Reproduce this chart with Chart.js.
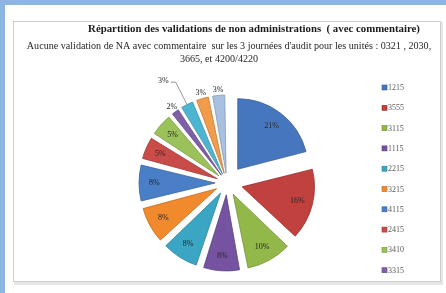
<!DOCTYPE html>
<html><head><meta charset="utf-8">
<script src="https://cdn.jsdelivr.net/npm/chart.js@4"></script>
<style>html,body{margin:0;padding:0;background:#fff;}canvas{display:block}</style>
</head><body>
<div style="width:446px;height:293px;position:relative"><canvas id="c" width="446" height="293"></canvas></div>
<script>
// ---- data ----
const chartTitle = 'Répartition des validations de non administrations  ( avec commentaire)';
const subtitleLines = ["Aucune validation de NA avec commentaire  sur les 3 journées d'audit pour les unités : 0321 , 2030,", '3665, et 4200/4220'];
const categories = ['1215', '3555', '3115', '1115', '2215', '3215', '4115', '2415', '3410', '3315', '', '', ''];
const percentValues = [21, 16, 10, 8, 8, 8, 8, 5, 5, 2, 3, 3, 3];
const legendCount = 10; // only the first 10 entries are visible in the legend
const sliceColors = ['#4677BE', '#C0413D', '#93B84A', '#7553A0', '#3BA5C4', '#F08A2C', '#4A7FC8', '#C94C48', '#9BC25A', '#7F5FA8', '#4CB5D1', '#F29B4A', '#A9C0E0'];

// ---- styling helpers ----
const EXPLODE = 18; // px each slice is pulled out
function shade(hex, f) {
  const n = parseInt(hex.slice(1), 16);
  const r = Math.round(((n >> 16) & 255) * f), g = Math.round(((n >> 8) & 255) * f), b = Math.round((n & 255) * f);
  return 'rgb(' + Math.min(255, r) + ',' + Math.min(255, g) + ',' + Math.min(255, b) + ')';
}
function arcTranslation(offset, circ) {
  const fix = 1 - Math.sin(Math.min(Math.PI, circ));
  return offset / 4 * (1 + fix);
}
function offsetFor(ctx) {
  const data = ctx.dataset.data;
  const total = data.reduce((a, b) => a + b, 0);
  const circ = data[ctx.dataIndex] / total * Math.PI * 2;
  const fix = 1 - Math.sin(Math.min(Math.PI, circ));
  return EXPLODE * 4 / (1 + fix);
}

const framePlugin = {
  id: 'frame',
  beforeDraw(chart) {
    const c = chart.ctx;
    c.save();
    c.fillStyle = '#ffffff';
    c.fillRect(0, 0, chart.width, chart.height);
    c.fillStyle = '#8FB5E5';
    c.fillRect(0, 0, chart.width, 5);
    c.fillRect(0, 0, 5, chart.height);
    c.fillStyle = '#E6E6E6';
    c.fillRect(14, 22, 429, 263);
    c.fillStyle = '#ffffff';
    c.fillRect(13, 21, 428, 261);
    c.strokeStyle = '#CFCFCF';
    c.lineWidth = 1;
    c.strokeRect(13.5, 21.5, 427, 260);
    c.restore();
  }
};

const textPlugin = {
  id: 'texts',
  afterDraw(chart) {
    const c = chart.ctx;
    c.save();
    c.fillStyle = '#1a1a1a';
    c.textBaseline = 'middle';
    c.textAlign = 'center';
    c.font = 'bold 10.8px "Liberation Serif"';
    c.fillText(chartTitle, 254, 29);
    c.font = '10.1px "Liberation Serif"';
    c.fillStyle = '#262626';
    c.fillText(subtitleLines[0], 229, 46);
    c.fillText(subtitleLines[1], 219, 59);

    c.textAlign = 'left';
    c.font = '8px "Liberation Serif"';
    for (let i = 0; i < legendCount; i++) {
      const y = 88 + i * 20.3;
      c.fillStyle = sliceColors[i];
      c.fillRect(382, y - 3, 5, 5);
      c.strokeStyle = shade(sliceColors[i], 0.75);
      c.lineWidth = 0.6;
      c.strokeRect(382, y - 3, 5, 5);
      c.fillStyle = '#595959';
      c.fillText(categories[i], 388, y);
    }

    const meta = chart.getDatasetMeta(0);
    const placed = [];
    c.font = '8px "Liberation Serif"';
    c.textAlign = 'center';
    meta.data.forEach((arc, i) => {
      const p = arc.getProps(['x', 'y', 'startAngle', 'endAngle', 'outerRadius']);
      const mid = (p.startAngle + p.endAngle) / 2;
      const T = arcTranslation(arc.options.offset, p.endAngle - p.startAngle);
      const R = p.outerRadius;
      const txt = percentValues[i] + '%';
      const w = c.measureText(txt).width;
      let lx, ly, leader = null;
      if (percentValues[i] > 3) {
        const d = T + R * 0.78;
        lx = p.x + Math.cos(mid) * d; ly = p.y + Math.sin(mid) * d;
      } else {
        const d = T + R + 6;
        lx = p.x + Math.cos(mid) * d; ly = p.y + Math.sin(mid) * d;
        const pad = 3;
        const box = {l: lx - w / 2 - pad, r: lx + w / 2 + pad, t: ly - 5, b: ly + 5};
        const hit = placed.some(q => box.l < q.r && box.r > q.l && box.t < q.b && box.b > q.t);
        if (hit) {
          const a2 = mid - 5 * Math.PI / 180, d2 = T + R + 32;
          lx = p.x + Math.cos(a2) * d2; ly = p.y + Math.sin(a2) * d2;
          leader = {x1: lx + w / 2 + 2, y1: ly + 1,
                    x2: p.x + Math.cos(mid) * (T + R), y2: p.y + Math.sin(mid) * (T + R)};
        }
        placed.push({l: lx - w / 2, r: lx + w / 2, t: ly - 4, b: ly + 4});
      }
      if (leader) {
        c.strokeStyle = '#7f7f7f';
        c.lineWidth = 0.8;
        c.beginPath();
        c.moveTo(leader.x1, leader.y1);
        c.lineTo(leader.x1 + 5, leader.y1);
        c.lineTo(leader.x2, leader.y2);
        c.stroke();
      }
      c.fillStyle = '#262626';
      c.fillText(txt, lx, ly);
    });
    c.restore();
  }
};

new Chart(document.getElementById('c'), {
  type: 'pie',
  data: {
    labels: categories,
    datasets: [{
      data: percentValues,
      backgroundColor: sliceColors,
      borderColor: sliceColors.map(col => shade(col, 0.8)),
      borderWidth: 0.8,
      offset: offsetFor,
      hoverOffset: 0
    }]
  },
  options: {
    responsive: false,
    devicePixelRatio: 1,
    animation: false,
    radius: 70,
    rotation: 0,
    layout: {padding: {left: 127, right: 119, top: 83, bottom: 10}},
    plugins: {legend: {display: false}, title: {display: false}, tooltip: {enabled: false}}
  },
  plugins: [framePlugin, textPlugin]
});
</script>
</body></html>
